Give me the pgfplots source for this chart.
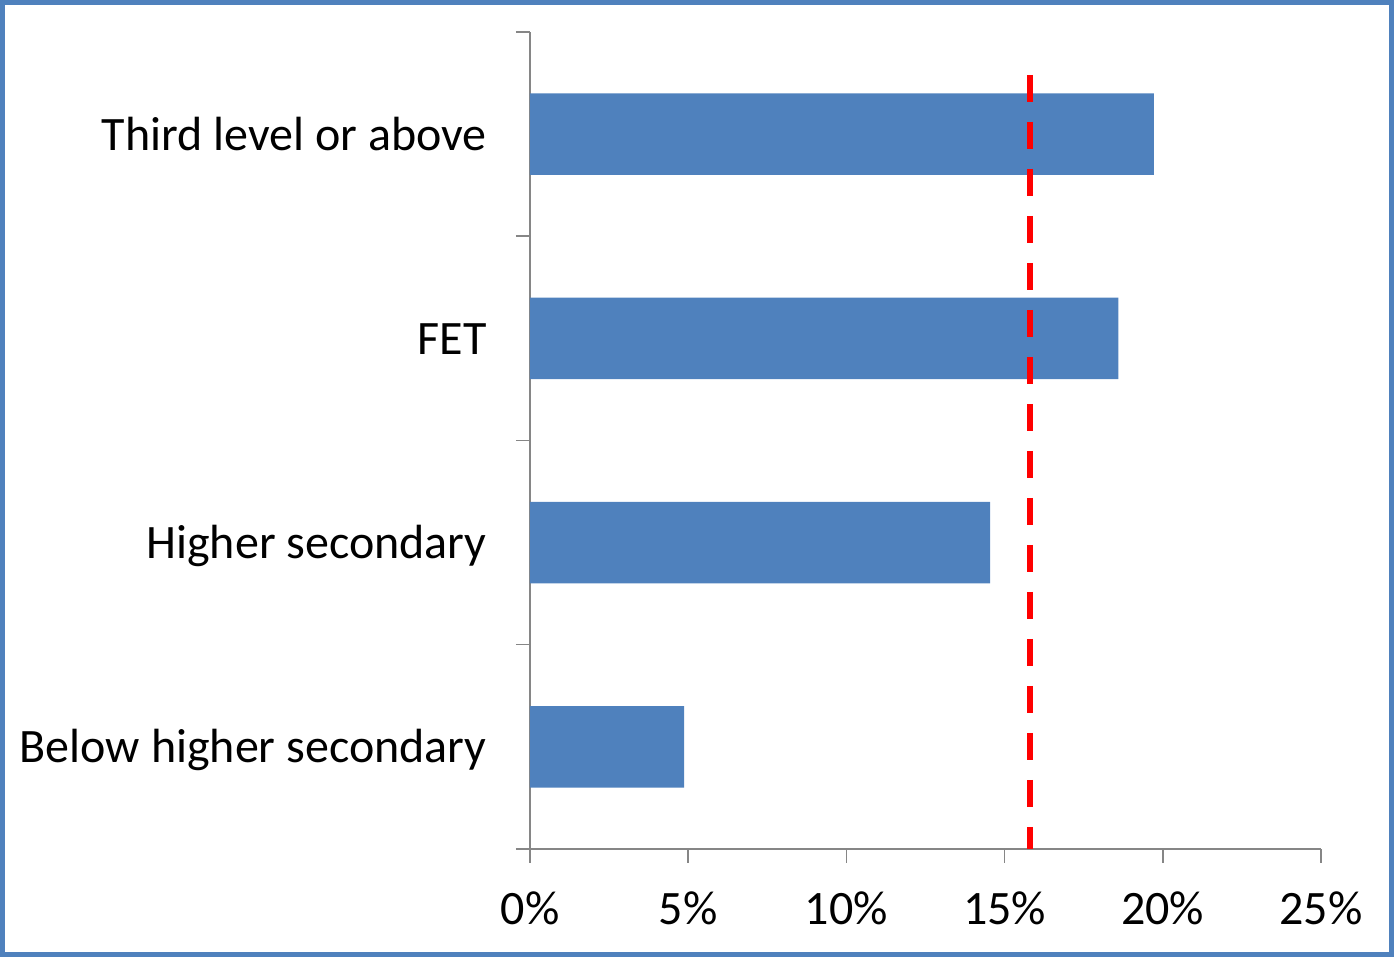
\documentclass[border=0pt]{standalone}
\usepackage{pgfplots}
\pgfplotsset{compat=1.18}
\usepackage{fontspec}
\setmainfont{Carlito}
\definecolor{barblue}{HTML}{4F81BD}
\definecolor{axisgray}{HTML}{868686}
\begin{document}
\begin{tikzpicture}[x=1pt,y=1pt]
\useasboundingbox (0,0) rectangle (697,478.5);
\draw[barblue, line width=2.5pt] (1.25,1.25) rectangle (695.75,477.25);
\begin{axis}[
  at={(265pt,54pt)}, anchor=south west,
  scale only axis, width=395.5pt, height=408.5pt,
  xmin=0, xmax=25, ymin=-0.5, ymax=3.5,
  axis x line*=bottom, axis y line*=left,
  axis line style={axisgray, line width=0.75pt},
  tick style={axisgray, line width=0.75pt},
  tick align=outside, major tick length=7pt,
  xtick={0,5,10,15,20,25},
  xticklabel={\pgfmathprintnumber{\tick}\%},
  /pgf/number format/assume math mode=true,
  xticklabel style={font=\fontsize{24}{28}\selectfont, inner sep=0pt, yshift=-14pt},
  ytick={-0.5,0.5,1.5,2.5,3.5}, yticklabels={},
  extra y ticks={0,1,2,3},
  extra y tick labels={Below higher secondary, Higher secondary, FET, Third level or above},
  extra y tick style={major tick length=0pt,
    yticklabel style={font=\fontsize{24}{28}\selectfont, inner sep=0pt, anchor=base east, xshift=-21.5pt, yshift=-8pt}},
  clip=false,
]
\addplot[xbar, bar width=0.4, fill=barblue, draw=none]
  coordinates {(4.87,0) (14.54,1) (18.6,2) (19.72,3)};
\addplot[red, line width=3pt, dash pattern=on 13.5pt off 10pt]
  coordinates {(15.8,3.29) (15.8,-0.5)};
\end{axis}
\end{tikzpicture}
\end{document}
